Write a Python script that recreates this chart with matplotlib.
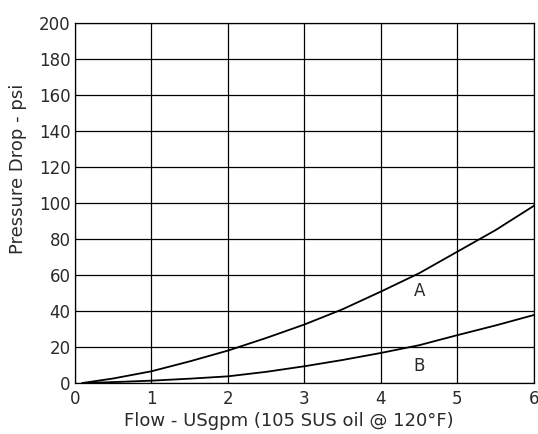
import matplotlib
matplotlib.use("Agg")
import matplotlib.pyplot as plt
import numpy as np

# ── Data ────────────────────────────────────────────────────
flow = [0.1, 0.5, 1.0, 1.5, 2.0, 2.5, 3.0, 3.5, 4.0, 4.5, 5.0, 5.5, 6.0]
drop_a = [0.0, 2.5, 6.5, 12.0, 18.0, 25.0, 32.5, 41.0, 50.8, 61.0, 73.0, 85.0, 98.5]
drop_b = [0.0, 0.5, 1.3, 2.4, 3.7, 6.2, 9.3, 12.8, 16.7, 21.0, 26.6, 32.0, 37.8]

x_ticks = [0, 1, 2, 3, 4, 5, 6]
y_ticks = list(range(0, 201, 20))

plt.rcParams["font.family"] = ["DejaVu Sans"]
text_color = "#2a2a2a"

fig = plt.figure(figsize=(5.38, 4.34), dpi=100, facecolor="white")
ax = fig.add_axes([0.139, 0.1175, 0.8536, 0.8295])

ax.plot(flow, drop_a, color="black", lw=1.3, solid_capstyle="round")
ax.plot(flow, drop_b, color="black", lw=1.3, solid_capstyle="round")

ax.text(4.5, 51, "A", fontsize=12, color=text_color, ha="center", va="center")
ax.text(4.5, 9.5, "B", fontsize=12, color=text_color, ha="center", va="center")

ax.set_xlim(0, 6)
ax.set_ylim(0, 200)
ax.set_xticks(x_ticks)
ax.set_yticks(y_ticks)
ax.tick_params(axis="y", length=0, labelsize=12, labelcolor=text_color, pad=3)
ax.tick_params(axis="x", length=0, labelsize=12, labelcolor=text_color, pad=5)
ax.grid(True, color="black", lw=0.9)
ax.set_axisbelow(True)
for sp in ax.spines.values():
    sp.set_color("black")
    sp.set_linewidth(0.9)

ax.set_xlabel("Flow - USgpm (105 SUS oil @ 120°F)", fontsize=13, color=text_color)
ax.set_ylabel("Pressure Drop - psi", fontsize=13, color=text_color)
ax.xaxis.set_label_coords(0.466, -0.08)
ax.yaxis.set_label_coords(-0.105, 0.594)

fig.savefig("out.png", dpi=100, facecolor="white")
